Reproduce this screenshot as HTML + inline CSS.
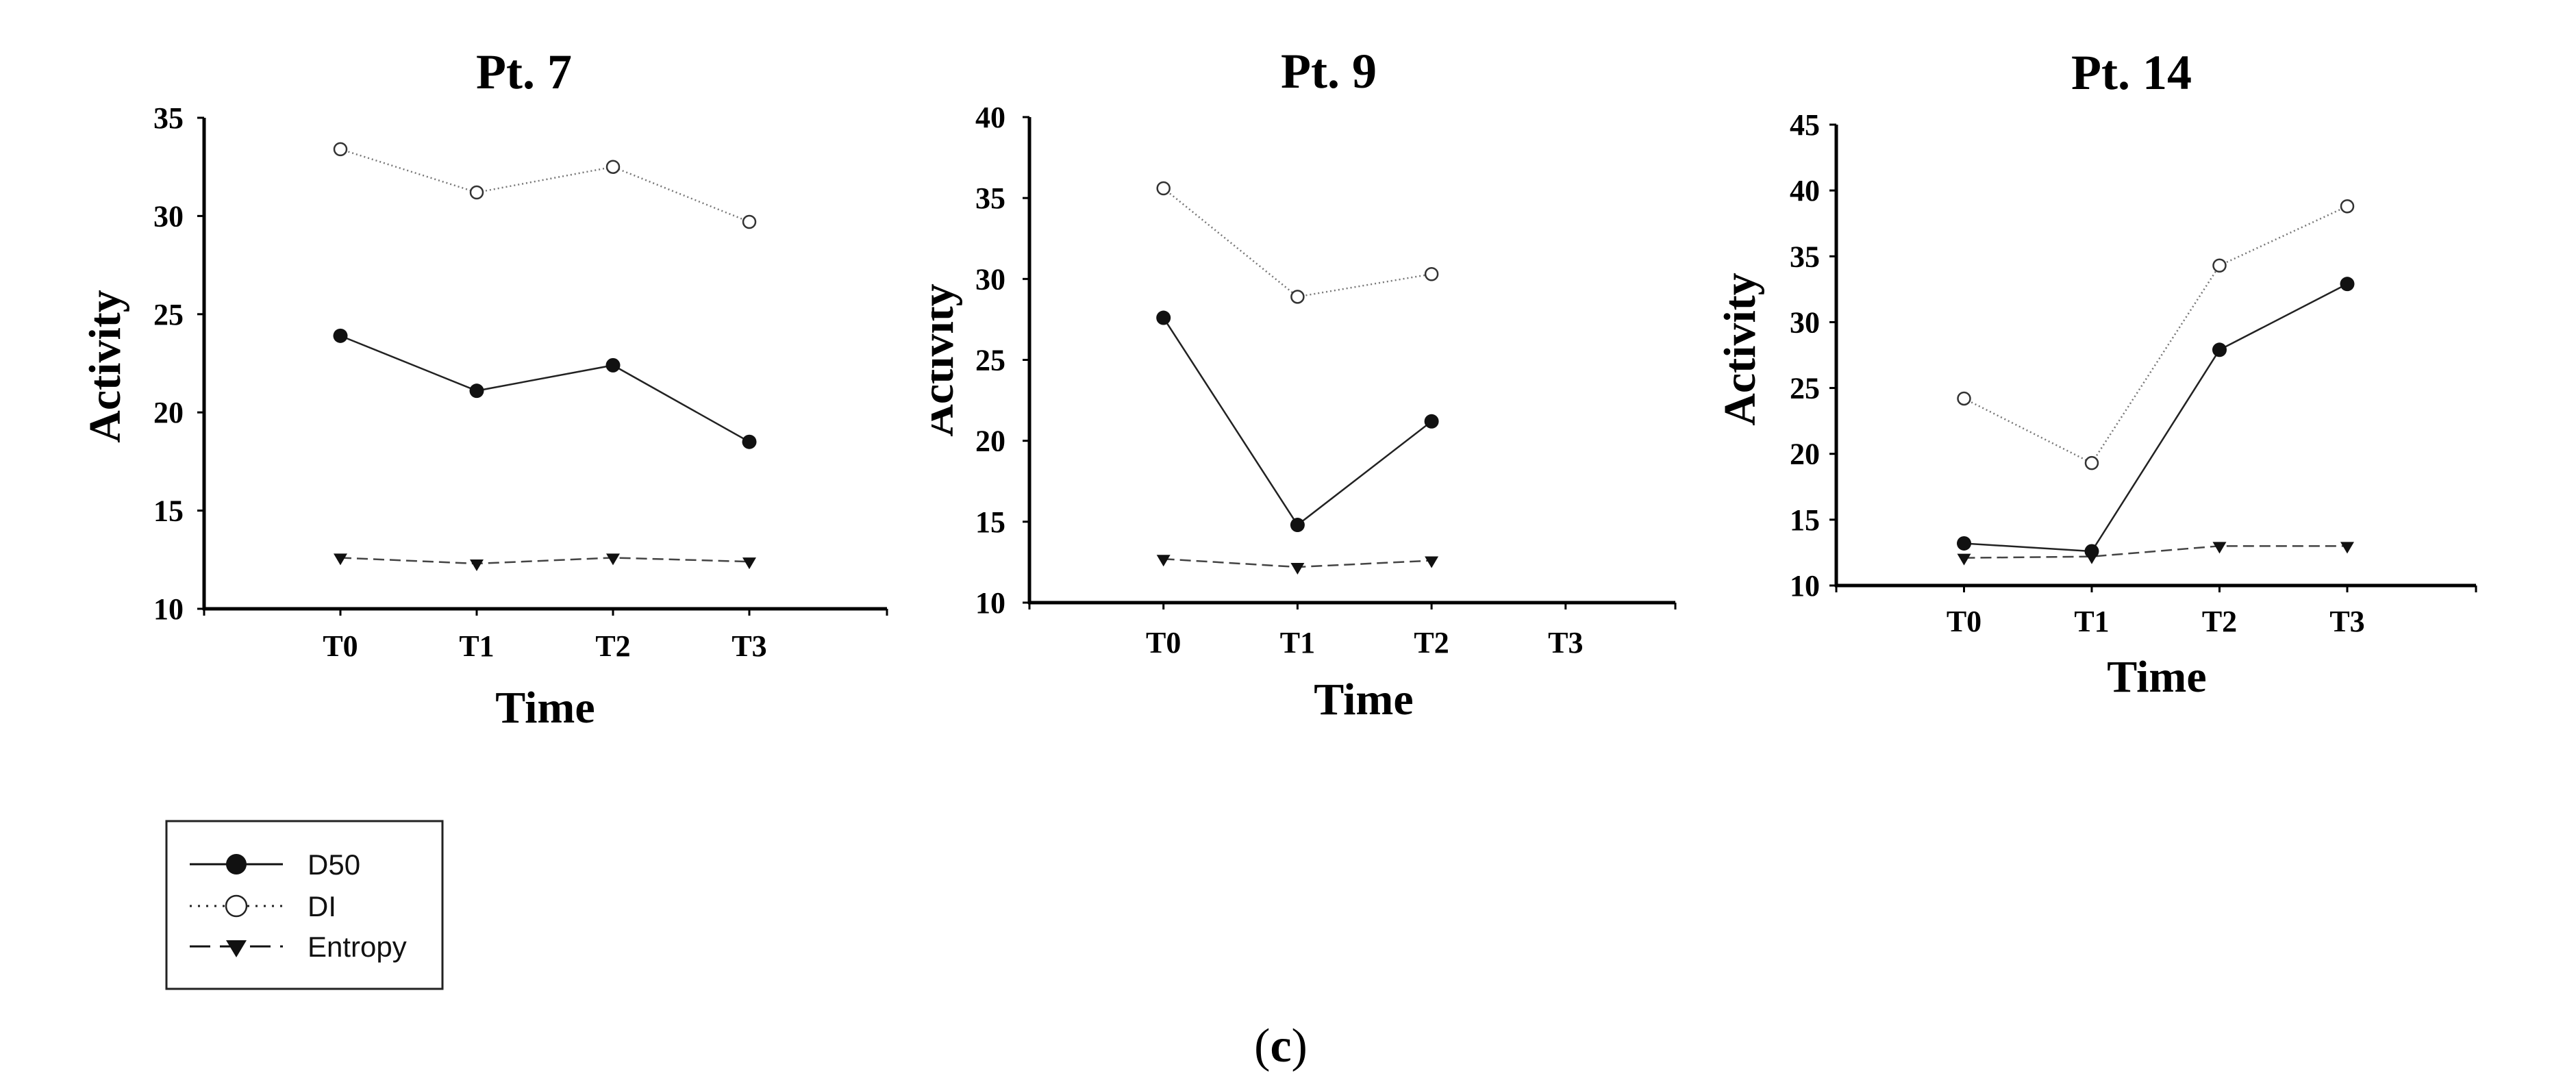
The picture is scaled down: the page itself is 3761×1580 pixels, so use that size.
<!DOCTYPE html>
<html><head><meta charset="utf-8"><style>
html,body{margin:0;padding:0;background:#fff;}
svg{display:block;}
</style></head><body>
<svg id="fig" width="3761" height="1580" viewBox="0 0 3761 1580" xmlns="http://www.w3.org/2000/svg">
<defs><clipPath id="clip9"><rect x="1360" y="0" width="200" height="1100"/></clipPath></defs>
<g id="legend">
  <rect x="243" y="1199" width="403" height="245" fill="none" stroke="#222" stroke-width="3"/>
  <g>
    <line x1="277" y1="1262" x2="413" y2="1262" stroke="#111" stroke-width="3"/>
    <circle cx="345" cy="1262" r="15" fill="#111"/>
    <text x="449" y="1277" font-family="Liberation Sans, sans-serif" font-size="42" fill="#111">D50</text>
  </g>
  <g>
    <line x1="277" y1="1323" x2="413" y2="1323" stroke="#222" stroke-width="3" stroke-dasharray="3,9"/>
    <circle cx="345" cy="1323" r="15" fill="#fff" stroke="#222" stroke-width="2.5"/>
    <text x="449" y="1338" font-family="Liberation Sans, sans-serif" font-size="42" fill="#111">DI</text>
  </g>
  <g>
    <line x1="277" y1="1382" x2="413" y2="1382" stroke="#111" stroke-width="3" stroke-dasharray="30,14"/>
    <polygon points="330,1373 360,1373 345,1398" fill="#111"/>
    <text x="449" y="1397" font-family="Liberation Sans, sans-serif" font-size="42" fill="#111">Entropy</text>
  </g>
</g>
<text x="1870" y="1550" text-anchor="middle" font-family="Liberation Serif, serif" font-size="70" fill="#000">(<tspan font-weight="bold">c</tspan>)</text>
</svg>
<script>
// ---- data ----
const categories = ["T0", "T1", "T2", "T3"];
const pt7D50 = [23.9, 21.1, 22.4, 18.5];
const pt7DI = [33.4, 31.2, 32.5, 29.7];
const pt7Entropy = [12.6, 12.3, 12.6, 12.4];
const pt9D50 = [27.6, 14.8, 21.2];
const pt9DI = [35.6, 28.9, 30.3];
const pt9Entropy = [12.7, 12.2, 12.6];
const pt14D50 = [13.2, 12.6, 27.9, 32.9];
const pt14DI = [24.2, 19.3, 34.3, 38.8];
const pt14Entropy = [12.1, 12.2, 13.0, 13.0];
const pt7Ticks = [10, 15, 20, 25, 30, 35];
const pt9Ticks = [10, 15, 20, 25, 30, 35, 40];
const pt14Ticks = [10, 15, 20, 25, 30, 35, 40, 45];
const titles = ["Pt. 7", "Pt. 9", "Pt. 14"];

const NS = "http://www.w3.org/2000/svg";
const svg = document.getElementById("fig");
function mk(tag, attrs, parent) {
  const e = document.createElementNS(NS, tag);
  for (const k in attrs) e.setAttribute(k, attrs[k]);
  (parent || svg).appendChild(e);
  return e;
}
const panels = [
  {title: titles[0], d50: pt7D50, di: pt7DI, ent: pt7Entropy, ticks: pt7Ticks,
   x0: 298, x1: 1295, step: 199, yTop: 172, yBot: 889, titleX: 765, titleY: 129,
   tickR: 268, catY: 958, timeX: 796, timeY: 1055, actX: 175, actY: 535, clip: null, key: "pt7"},
  {title: titles[1], d50: pt9D50, di: pt9DI, ent: pt9Entropy, ticks: pt9Ticks,
   x0: 1503, x1: 2446, step: 195.7, yTop: 171, yBot: 880, titleX: 1940, titleY: 128,
   tickR: 1468, catY: 953, timeX: 1991, timeY: 1043, actX: 1391, actY: 526, clip: "url(#clip9)", key: "pt9"},
  {title: titles[2], d50: pt14D50, di: pt14DI, ent: pt14Entropy, ticks: pt14Ticks,
   x0: 2681, x1: 3615, step: 186.5, yTop: 182, yBot: 855, titleX: 3112, titleY: 130,
   tickR: 2657, catY: 922, timeX: 3149, timeY: 1010, actX: 2562, actY: 510, clip: null, key: "pt14"}
];
const serif = "Liberation Serif, serif";
panels.forEach(p => {
  const g = mk("g", {});
  
  
  const vmin = p.ticks[0], vmax = p.ticks[p.ticks.length - 1];
  const yS = v => p.yBot - (v - vmin) / (vmax - vmin) * (p.yBot - p.yTop);
  const xS = i => p.x0 + p.step * (i + 1);
  const t = mk("text", {x: p.titleX, y: p.titleY, "text-anchor": "middle", "font-family": serif, "font-weight": "bold", "font-size": 72}, g);
  t.textContent = p.title;
  
  
  const ya = mk("line", {x1: p.x0, y1: p.yTop, x2: p.x0, y2: p.yBot + 2, stroke: "#000", "stroke-width": 5}, g);
  
  
  const xa = mk("line", {x1: p.x0 - 2, y1: p.yBot, x2: p.x1, y2: p.yBot, stroke: "#000", "stroke-width": 5}, g);
  
  
  p.ticks.forEach(v => {
    mk("line", {x1: p.x0 - 10, y1: yS(v), x2: p.x0, y2: yS(v), stroke: "#000", "stroke-width": 3}, g);
    const tl = mk("text", {x: p.tickR, y: yS(v) + 15, "text-anchor": "end", "font-family": serif, "font-weight": "bold", "font-size": 44}, g);
    tl.textContent = v;
    
    
  });
  [p.x0, p.x1].forEach(x => mk("line", {x1: x, y1: p.yBot, x2: x, y2: p.yBot + 10, stroke: "#000", "stroke-width": 3}, g));
  categories.forEach((c, i) => {
    mk("line", {x1: xS(i), y1: p.yBot, x2: xS(i), y2: p.yBot + 10, stroke: "#000", "stroke-width": 3}, g);
    const cl = mk("text", {x: xS(i), y: p.catY, "text-anchor": "middle", "font-family": serif, "font-weight": "bold", "font-size": 44}, g);
    cl.textContent = c;
    
    
  });
  const tt = mk("text", {x: p.timeX, y: p.timeY, "text-anchor": "middle", "font-family": serif, "font-weight": "bold", "font-size": 66}, g);
  tt.textContent = "Time";
  
  
  const ag = mk("g", {}, g);
  if (p.clip) ag.setAttribute("clip-path", p.clip);
  const at = mk("text", {x: p.actX, y: p.actY, "text-anchor": "middle", "font-family": serif, "font-weight": "bold", "font-size": 66, transform: "rotate(-90 " + p.actX + " " + p.actY + ")"}, ag);
  at.textContent = "Activity";
  
  
  const pts = arr => arr.map((v, i) => xS(i) + "," + yS(v)).join(" ");
  const lDI = mk("polyline", {points: pts(p.di), fill: "none", stroke: "#777", "stroke-width": 2.5, "stroke-dasharray": "2,4"}, g);
  
  
  const lE = mk("polyline", {points: pts(p.ent), fill: "none", stroke: "#444", "stroke-width": 2.5, "stroke-dasharray": "16,8"}, g);
  
  
  const lD = mk("polyline", {points: pts(p.d50), fill: "none", stroke: "#222", "stroke-width": 2.5}, g);
  
  
  p.di.forEach((v, i) => {
    const c = mk("circle", {cx: xS(i), cy: yS(v), r: 9, fill: "#fff", stroke: "#333", "stroke-width": 2.5}, g);
    
    
  });
  p.ent.forEach((v, i) => {
    const x = xS(i), y = yS(v);
    const tr = mk("polygon", {points: (x - 10) + "," + (y - 6) + " " + (x + 10) + "," + (y - 6) + " " + x + "," + (y + 11), fill: "#111"}, g);
    
    
  });
  p.d50.forEach((v, i) => {
    const c = mk("circle", {cx: xS(i), cy: yS(v), r: 10.5, fill: "#111"}, g);
    
    
  });
});
</script>
</body></html>
